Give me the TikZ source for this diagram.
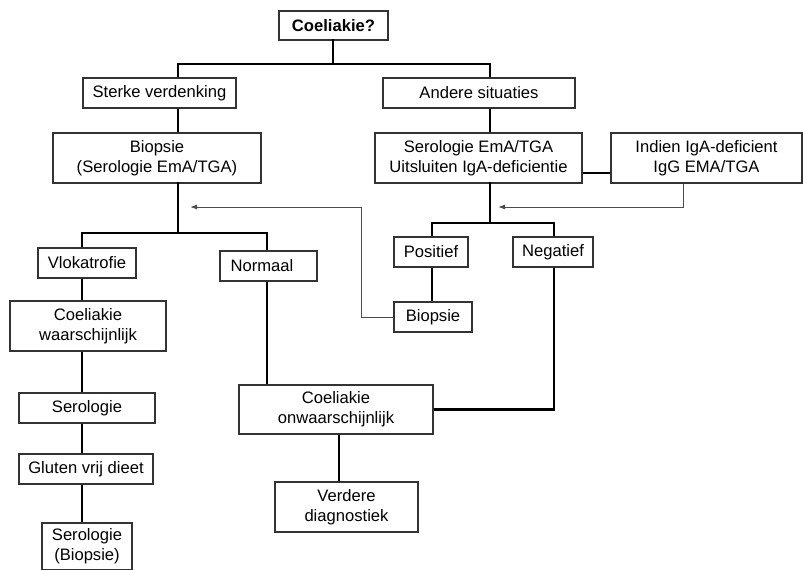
\documentclass[tikz,border=0pt]{standalone}
\usepackage{fontspec}
\setmainfont{Liberation Sans}
\usetikzlibrary{arrows.meta}
\begin{document}
\begin{tikzpicture}[x=1pt,y=-1pt,
  box/.style={draw=black!80,line width=1.1pt,fill=white,inner sep=0pt,align=center,
    font=\fontsize{16.6}{20}\selectfont},
  conn/.style={line width=2.6pt,black,line cap=rect},
  thin/.style={line width=1pt,black!70,-{Latex[length=7pt,width=5pt]}},
  thinline/.style={line width=1pt,black!70}]
\useasboundingbox (0,0) rectangle (803,570);
\fill[white] (0,0) rectangle (803,570);
% nodes
\node[box,minimum width=109,minimum height=29,font=\fontsize{16.6}{20}\selectfont\bfseries] (coel) at (333.5,25.5) {Coeliakie?};
\node[box,minimum width=153,minimum height=30] (sterke) at (159.5,93) {Sterke verdenking};
\node[box,minimum width=192,minimum height=30] (andere) at (479,93) {Andere situaties};
\node[box,minimum width=208,minimum height=50] (biop1) at (157,158) {Biopsie\\(Serologie EmA/TGA)};
\node[box,minimum width=207,minimum height=50] (sero1) at (478.5,158) {Serologie EmA/TGA\\Uitsluiten IgA-deficientie};
\node[box,minimum width=191,minimum height=50] (indien) at (706.5,158) {Indien IgA-deficient\\IgG EMA/TGA};
\node[box,minimum width=74,minimum height=30] (pos) at (431,252) {Positief};
\node[box,minimum width=80,minimum height=30] (neg) at (553,252) {Negatief};
\node[box,minimum width=98,minimum height=30] (vlok) at (87,263) {Vlokatrofie};
\node[box,minimum width=97,minimum height=30] (norm) at (268.5,266) {Normaal\hspace{13pt}};
\node[box,minimum width=156,minimum height=50] (waar) at (88,326) {Coeliakie\\waarschijnlijk};
\node[box,minimum width=78,minimum height=30] (biop2) at (433,317) {Biopsie};
\node[box,minimum width=136,minimum height=30] (sero2) at (87,408) {Serologie};
\node[box,minimum width=134,minimum height=30] (gluten) at (86,469) {Gluten vrij dieet};
\node[box,minimum width=90,minimum height=47] (serbio) at (87,546.5) {Serologie\\(Biopsie)};
\node[box,minimum width=194,minimum height=49] (onw) at (336,409.5) {Coeliakie\\onwaarschijnlijk};
\node[box,minimum width=143,minimum height=50] (verd) at (346.5,507) {Verdere\\diagnostiek};
% junctions
\coordinate (j1) at (333,64);
\coordinate (j2) at (178,233);
\coordinate (j3) at (490,223);
\coordinate (a1) at (498,207);
\coordinate (a2) at (190,207);
\coordinate (k2) at (361,207);
% thick connectors
\draw[conn] (j1 |- coel.south) -- (j1);
\draw[conn,line cap=butt] (sterke.north -| 178,0) |- (j1) -| (andere.north -| 490,0);
\draw[conn,line cap=butt] (sterke.south -| 178,0) -- (biop1.north -| 178,0);
\draw[conn,line cap=butt] (andere.south -| 490,0) -- (sero1.north -| 490,0);
\draw[conn] (biop1.south -| 178,0) -- (j2);
\draw[conn,line cap=butt] (vlok.north -| 82,0) |- (j2) -| (norm.north -| 267,0);
\draw[conn,line cap=butt] (sero1.east |- 0,173) -- (indien.west |- 0,173);
\draw[conn] (sero1.south -| 490,0) -- (j3);
\draw[conn,line cap=butt] (pos.north -| 432,0) |- (j3) -| (neg.north -| 554,0);
\draw[conn,line cap=butt] (pos.south -| 432,0) -- (biop2.north -| 432,0);
\draw[conn,line cap=butt] (vlok.south -| 82,0) -- (waar.north -| 82,0);
\draw[conn,line cap=butt] (waar.south -| 82,0) -- (sero2.north -| 82,0);
\draw[conn,line cap=butt] (sero2.south -| 82,0) -- (gluten.north -| 82,0);
\draw[conn,line cap=butt] (gluten.south -| 82,0) -- (serbio.north -| 82,0);
\draw[conn,line cap=butt] (norm.south -| 267,0) -- (onw.north -| 267,0);
\draw[conn,line cap=butt] (neg.south -| 554,0) |- (onw.east);
\draw[conn,line cap=butt] (onw.south -| 339,0) -- (verd.north -| 339,0);
% thin arrows
\draw[thin] (indien.south -| 683,0) |- (a1);
\draw[thinline] (biop2.west) -| (k2);
\draw[thin] (k2) -- (a2);
\end{tikzpicture}
\end{document}
